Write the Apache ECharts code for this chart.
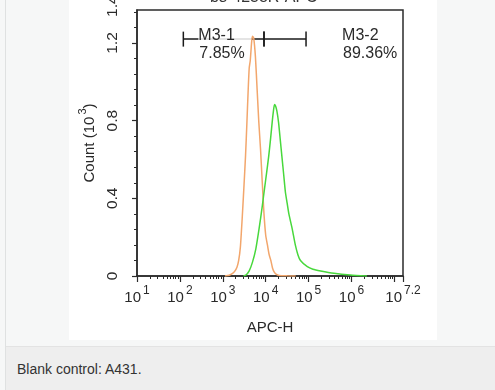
<!DOCTYPE html>
<html><head><meta charset="utf-8">
<script src="https://cdn.jsdelivr.net/npm/echarts@6/dist/echarts.min.js"></script>
<style>
html,body{margin:0;padding:0;width:495px;height:390px;overflow:hidden;background:#f6f7f7;font-family:Arial,"Liberation Sans",sans-serif;}
#edge{position:absolute;left:5px;top:0;width:1px;height:390px;background:#dfe1e1;}
#panel{position:absolute;left:69px;top:0;width:368px;height:340px;background:#fff;}
#chart{position:absolute;left:69px;top:0;width:368px;height:340px;}
#cap{position:absolute;left:6px;top:346px;width:489px;height:44px;background:#eeeeee;border-top:1px solid #e3e3e3;}
#cap span{position:absolute;left:11px;top:14px;font-size:14px;color:#333;}
</style></head>
<body>
<div id="edge"></div>
<div id="panel"></div>
<div id="chart"></div>
<div id="cap"><span>Blank control: A431.</span></div>
<script>
// x values are log10(APC-H), y values are Count (10^3)
const blankX = [3.05,3.15,3.22,3.28,3.33,3.37,3.41,3.45,3.49,3.53,3.56,3.59,3.615,3.64,3.67,3.69,3.72,3.76,3.80,3.84,3.88,3.92,3.96,4.00,4.04,4.08,4.12,4.16,4.20,4.25,4.31,4.50,4.70];
const blankY = [0,0.004,0.012,0.025,0.045,0.08,0.15,0.29,0.45,0.62,0.78,0.95,1.07,1.11,1.20,1.235,1.225,1.13,0.96,0.79,0.65,0.48,0.32,0.21,0.16,0.11,0.08,0.04,0.02,0.008,0.003,0.001,0];
const sampleX = [3.48,3.54,3.615,3.69,3.77,3.85,3.92,3.97,4.02,4.07,4.11,4.15,4.18,4.205,4.23,4.26,4.30,4.34,4.38,4.42,4.46,4.50,4.54,4.62,4.69,4.75,4.81,4.97,5.10,5.28,5.59,5.97,6.36];
const sampleY = [0,0.005,0.026,0.07,0.14,0.25,0.36,0.446,0.53,0.617,0.70,0.79,0.85,0.883,0.875,0.85,0.79,0.70,0.61,0.52,0.43,0.375,0.32,0.24,0.16,0.11,0.08,0.048,0.035,0.026,0.014,0.005,0];
const gateNames = ['M3-1','M3-2'];
const gateFrom = [2.08, 3.96];
const gateTo = [3.96, 4.94];
const gateLevel = [1.22, 1.22];
const gatePercent = ['7.85%','89.36%'];
const xTickLabels = ['1','2','3','4','5','6','7.2'];
const xTickValues = [1,2,3,4,5,6,7.2];
const yTickValues = [0,0.4,0.8,1.2];

const xMinor = [];
for (let n = 1; n <= 7; n++) for (let k = 2; k <= 9; k++) { const v = n + Math.log10(k); if (v < 7.2) xMinor.push(v); }
const yMinor = [];
for (let i = 1; i <= 17; i++) { if (i % 5 !== 0) yMinor.push(+(i * 0.08).toFixed(2)); }

const axisColor = '#2b2b2b';
const txt = '#2a2a2a';
const chart = echarts.init(document.getElementById('chart'), null, {renderer: 'canvas'});
const blankData = blankX.map((x, i) => [x, blankY[i]]);
const sampleData = sampleX.map((x, i) => [x, sampleY[i]]);
const gateData = gateNames.map((n, i) => [gateFrom[i], gateTo[i], gateLevel[i], i]);
const labelAnchors = [[2.43, 1.2375], [5.78, 1.2375]];

const option = {
  animation: false,
  backgroundColor: 'transparent',
  title: {text: 'bs-4258R-APC', left: 136, top: -15, textStyle: {fontSize: 16, fontWeight: 'normal', color: '#333', fontFamily: 'Arial'}},
  grid: {left: 65, right: 34, top: 10, bottom: 63, show: true, borderColor: axisColor, borderWidth: 1.5, backgroundColor: 'transparent'},
  xAxis: [{
    type: 'value', min: 1, max: 7.2, interval: 1,
    axisLine: {lineStyle: {color: axisColor, width: 1.5}},
    axisTick: {customValues: [1,2,3,4,5,6,7,7.2], length: 6, lineStyle: {color: axisColor, width: 1.2}},
    splitLine: {show: false},
    axisLabel: {
      customValues: xTickValues, margin: 9,
      formatter: v => { const i = xTickValues.indexOf(v); return '{b|10}{s|' + (i >= 0 ? xTickLabels[i] : '') + '}'; },
      rich: {
        b: {fontSize: 15, color: txt, fontFamily: 'Arial', verticalAlign: 'bottom', lineHeight: 20},
        s: {fontSize: 12, color: txt, fontFamily: 'Arial', verticalAlign: 'top', lineHeight: 20, padding: [0,0,0,2]}
      }
    },
    name: 'APC-H', nameLocation: 'middle', nameGap: 44,
    nameTextStyle: {fontSize: 15, color: txt, fontFamily: 'Arial'}
  }, {
    type: 'value', min: 1, max: 7.2, position: 'bottom',
    axisLine: {show: false}, splitLine: {show: false}, axisLabel: {show: false},
    axisTick: {customValues: xMinor, length: 3, lineStyle: {color: axisColor, width: 1}}
  }],
  yAxis: [{
    type: 'value', min: 0, max: 1.37,
    axisLine: {show: true, lineStyle: {color: axisColor, width: 1.5}},
    axisTick: {show: true, customValues: yTickValues, length: 5, lineStyle: {color: axisColor, width: 1.2}},
    splitLine: {show: false},
    axisLabel: {customValues: yTickValues, rotate: 90, margin: 16, fontSize: 15.5, color: txt, fontFamily: 'Arial',
      formatter: v => v === 0 ? '0' : v.toFixed(1)},
    name: '{b|Count (10}{s|3}{b|)}', nameLocation: 'middle', nameRotate: 90, nameGap: 40,
    nameTextStyle: {rich: {
      b: {fontSize: 15, color: txt, fontFamily: 'Arial', verticalAlign: 'bottom', lineHeight: 20},
      s: {fontSize: 11, color: txt, fontFamily: 'Arial', verticalAlign: 'top', lineHeight: 20, padding: [0,0,0,2]}
    }}
  }, {
    type: 'value', min: 0, max: 1.37, position: 'left',
    axisLine: {show: false}, splitLine: {show: false}, axisLabel: {show: false},
    axisTick: {show: true, customValues: yMinor, length: 3, lineStyle: {color: axisColor, width: 1}}
  }],
  series: [{
    type: 'custom', z: 1, xAxisIndex: 0, yAxisIndex: 0, data: gateData, clip: false,
    renderItem: (params, api) => {
      const a = api.coord([api.value(0), api.value(2)]);
      const b = api.coord([api.value(1), api.value(2)]);
      const idx = api.value(3);
      const anc = api.coord(labelAnchors[idx]);
      const st = {stroke: '#1a1a1a', lineWidth: 1.5};
      return {type: 'group', children: [
        {type: 'line', shape: {x1: a[0], y1: a[1], x2: b[0], y2: b[1]}, style: st},
        {type: 'line', shape: {x1: a[0], y1: a[1] - 7.5, x2: a[0], y2: a[1] + 7.5}, style: st},
        {type: 'line', shape: {x1: b[0], y1: b[1] - 7.5, x2: b[0], y2: b[1] + 7.5}, style: st},
        {type: 'text', x: anc[0], y: anc[1], style: {text: gateNames[idx], fontSize: 16, fontFamily: 'Arial', fill: txt,
          align: 'left', verticalAlign: 'middle', backgroundColor: 'rgba(255,255,255,0.85)', padding: idx === 0 ? [0, 17, 0, 0] : 0}},
        {type: 'text', x: anc[0] + 1, y: anc[1] + 18, style: {text: gatePercent[idx], fontSize: 16, fontFamily: 'Arial', fill: txt,
          align: 'left', verticalAlign: 'middle'}}
      ]};
    }
  }, {
    type: 'line', z: 3, data: blankData, showSymbol: false, smooth: 0.2,
    lineStyle: {color: '#f2a66c', width: 1.5}
  }, {
    type: 'line', z: 3, data: sampleData, showSymbol: false, smooth: 0.2,
    lineStyle: {color: '#48d83c', width: 1.5}
  }]
};
chart.setOption(option);
const yTop = chart.convertToPixel({yAxisIndex: 0}, 1.4);
chart.setOption({graphic: [{type: 'text', x: 44, y: yTop + 2, rotation: Math.PI / 2,
  style: {text: '1.4', fontSize: 15.5, fontFamily: 'Arial', fill: txt, align: 'center', verticalAlign: 'middle'}}]});
</script>
</body></html>
